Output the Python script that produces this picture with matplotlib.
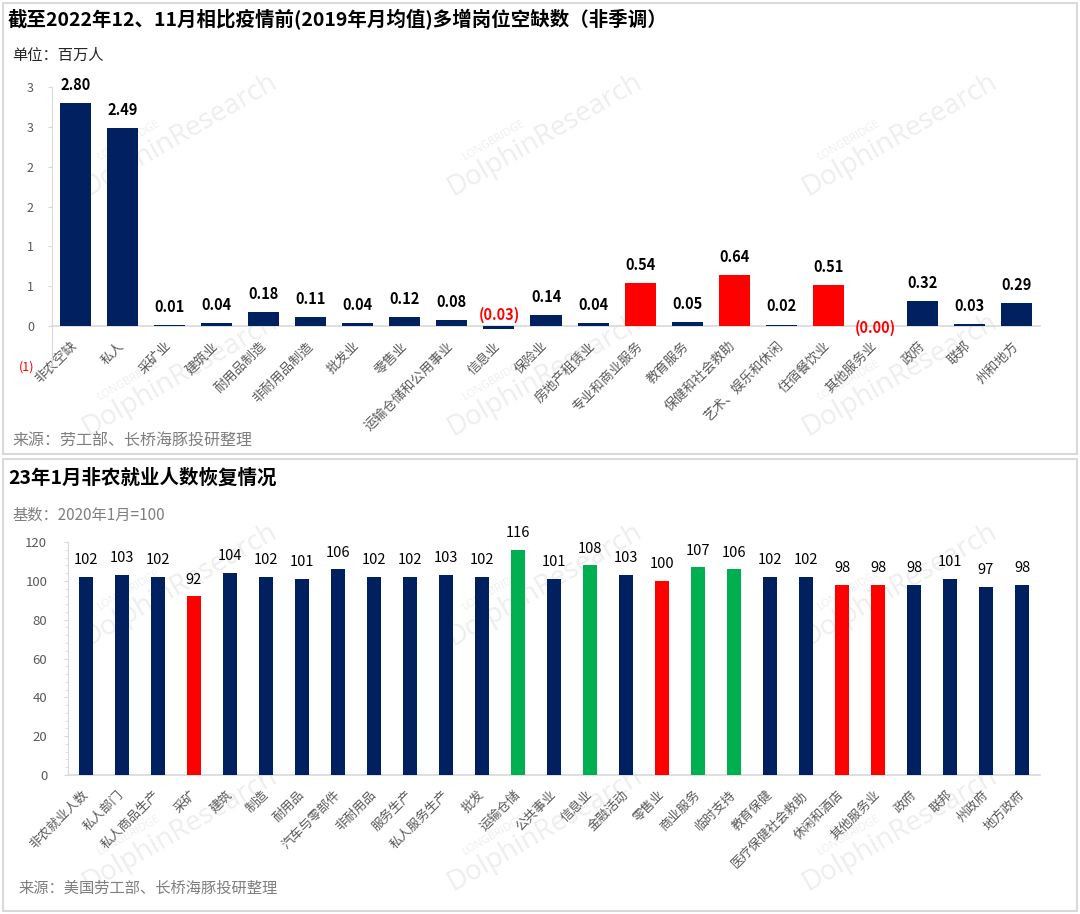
import matplotlib
matplotlib.use('Agg')
import matplotlib.pyplot as plt
from matplotlib.patches import Rectangle
from matplotlib.ticker import MultipleLocator
import numpy as np

plt.rcParams['font.family'] = ['Noto Sans CJK SC', 'DejaVu Sans']

# ---------------- data ----------------
title_top = "截至2022年12、11月相比疫情前(2019年月均值)多增岗位空缺数（非季调）"
unit_top = "单位：百万人"
source_top = "来源：劳工部、长桥海豚投研整理"
cats_top = ["非农空缺", "私人", "采矿业", "建筑业", "耐用品制造", "非耐用品制造", "批发业",
            "零售业", "运输仓储和公用事业", "信息业", "保险业", "房地产租赁业", "专业和商业服务",
            "教育服务", "保健和社会救助", "艺术、娱乐和休闲", "住宿餐饮业", "其他服务业",
            "政府", "联邦", "州和地方"]
vals_top = [2.80, 2.49, 0.01, 0.04, 0.18, 0.11, 0.04, 0.12, 0.08, -0.03, 0.14, 0.04,
            0.54, 0.05, 0.64, 0.02, 0.51, -0.004, 0.32, 0.03, 0.29]
red_top = ["专业和商业服务", "保健和社会救助", "住宿餐饮业"]
yticks_top = [-0.5, 0, 0.5, 1.0, 1.5, 2.0, 2.5, 3.0]
yticklabels_top = ["(1)", "0", "1", "1", "2", "2", "3", "3"]

title_bot = "23年1月非农就业人数恢复情况"
unit_bot = "基数：2020年1月=100"
source_bot = "来源：美国劳工部、长桥海豚投研整理"
cats_bot = ["非农就业人数", "私人部门", "私人商品生产", "采矿", "建筑", "制造", "耐用品",
            "汽车与零部件", "非耐用品", "服务生产", "私人服务生产", "批发", "运输仓储",
            "公共事业", "信息业", "金融活动", "零售业", "商业服务", "临时支持", "教育保健",
            "医疗保健社会救助", "休闲和酒店", "其他服务业", "政府", "联邦", "州政府", "地方政府"]
vals_bot = [102, 103, 102, 92, 104, 102, 101, 106, 102, 102, 103, 102, 116, 101, 108,
            103, 100, 107, 106, 102, 102, 98, 98, 98, 101, 97, 98]
red_bot = ["采矿", "零售业", "休闲和酒店", "其他服务业"]
green_bot = ["运输仓储", "信息业", "商业服务", "临时支持"]

NAVY = "#002060"
RED = "#FF0000"
GREEN = "#00B050"
AXC = "#d9d9d9"
TXT = "#595959"

W, H = 1080, 914
fig = plt.figure(figsize=(W / 100, H / 100), dpi=100)


def fx(px):
    return px / W


def fy(py):
    return 1 - py / H


# panel frames
for (x0, y0, x1, y1) in [(3, 3, 1077, 454), (3, 459, 1077, 911)]:
    fig.patches.append(Rectangle((fx(x0), fy(y1)), fx(x1) - fx(x0), fy(y0) - fy(y1),
                                 transform=fig.transFigure, fill=False,
                                 edgecolor=AXC, lw=1.5, zorder=1))


# watermarks
def watermark(cx, cy):
    ang = 30
    rad = np.deg2rad(ang)
    fig.text(fx(cx), fy(cy), "DolphinResearch", rotation=ang, ha='center', va='center',
             fontsize=20, color='#eeeeee', zorder=-1, family='Open Sans')
    a, b = -47, 21
    dx = a * np.cos(rad) - b * np.sin(rad)
    dy = -a * np.sin(rad) - b * np.cos(rad)
    fig.text(fx(cx + dx), fy(cy + dy), "LONGBRIDGE", rotation=ang, ha='center', va='center',
             fontsize=8, color='#eeeeee', zorder=-1, family='Open Sans')


for cy in [135, 375, 585, 830]:
    for cx in [180, 545, 900]:
        watermark(cx, cy)

# ---------------- top chart ----------------
fig.text(fx(8), fy(20), title_top, fontsize=14, fontweight='bold', ha='left', va='center', color='black')
fig.text(fx(12), fy(55), unit_top, fontsize=11, ha='left', va='center', color='#262626')
fig.text(fx(12), fy(441), source_top, fontsize=11.5, ha='left', va='center', color='#7f7f7f')

ax1 = fig.add_axes([fx(52), fy(366), fx(1040) - fx(52), fy(87) - fy(366)])
ax1.set_facecolor('none')
x1 = np.arange(len(cats_top))
cols1 = [RED if c in red_top else NAVY for c in cats_top]
ax1.bar(x1, vals_top, width=0.66, color=cols1, zorder=3)
ax1.set_xlim(-0.5, len(cats_top) - 0.5)
ax1.set_ylim(-0.5, 3.0)
for s in ['top', 'right']:
    ax1.spines[s].set_visible(False)
ax1.spines['bottom'].set_position(('data', 0))
ax1.spines['bottom'].set_color(AXC)
ax1.spines['left'].set_color(AXC)
ax1.spines['bottom'].set_linewidth(1.2)
ax1.set_xticks(x1)
ax1.set_xticklabels(cats_top, rotation=45, ha='right', va='center', rotation_mode='anchor',
                    fontsize=9.5, color=TXT)
ax1.tick_params(axis='x', length=0, pad=13)
ax1.set_yticks(yticks_top)
ax1.set_yticklabels(yticklabels_top)
ax1.tick_params(axis='y', length=3, color=AXC, pad=10, labelsize=9, labelcolor=TXT)
for lab in ax1.get_yticklabels():
    if lab.get_text().startswith('('):
        lab.set_color(RED)

neg_offset = {"信息业": 8, "其他服务业": -1}
for i, (c, v) in enumerate(zip(cats_top, vals_top)):
    if v >= 0:
        ax1.annotate(f"{v:.2f}", (i, v), xytext=(0, 13), textcoords='offset points',
                     ha='center', va='center', fontsize=10.5, fontweight='bold', color='black')
    else:
        ax1.annotate(f"({abs(v):.2f})", (i, 0), xytext=(0, neg_offset.get(c, 0)),
                     textcoords='offset points', ha='center', va='center', fontsize=10.5,
                     fontweight='bold', color=RED)

# ---------------- bottom chart ----------------
fig.text(fx(8), fy(478), title_bot, fontsize=14, fontweight='bold', ha='left', va='center', color='black')
fig.text(fx(12), fy(515), unit_bot, fontsize=11, ha='left', va='center', color='#7f7f7f')
fig.text(fx(18), fy(888), source_bot, fontsize=11, ha='left', va='center', color='#7f7f7f')

ax2 = fig.add_axes([fx(68), fy(775), fx(1040) - fx(68), fy(542) - fy(775)])
ax2.set_facecolor('none')
x2 = np.arange(len(cats_bot))
cols2 = [RED if c in red_bot else GREEN if c in green_bot else NAVY for c in cats_bot]
ax2.bar(x2, vals_bot, width=0.4, color=cols2, zorder=3)
ax2.set_xlim(-0.5, len(cats_bot) - 0.5)
ax2.set_ylim(0, 120)
for s in ['top', 'right']:
    ax2.spines[s].set_visible(False)
ax2.spines['bottom'].set_color(AXC)
ax2.spines['left'].set_color(AXC)
ax2.spines['bottom'].set_linewidth(1.2)
ax2.set_xticks(x2)
ax2.set_xticklabels(cats_bot, rotation=45, ha='right', va='center', rotation_mode='anchor',
                    fontsize=9.2, color=TXT)
ax2.tick_params(axis='x', length=0, pad=13)
ax2.yaxis.set_major_locator(MultipleLocator(20))
ax2.yaxis.set_minor_locator(MultipleLocator(4))
ax2.tick_params(axis='y', which='major', length=3, color=AXC, pad=12, labelsize=9.5, labelcolor=TXT)
ax2.tick_params(axis='y', which='minor', length=2, color=AXC)

for i, v in enumerate(vals_bot):
    ax2.annotate(f"{v:.0f}", (i, v), xytext=(0, 12), textcoords='offset points',
                 ha='center', va='center', fontsize=10.5, color='black')

fig.savefig('out.png', dpi=100)
